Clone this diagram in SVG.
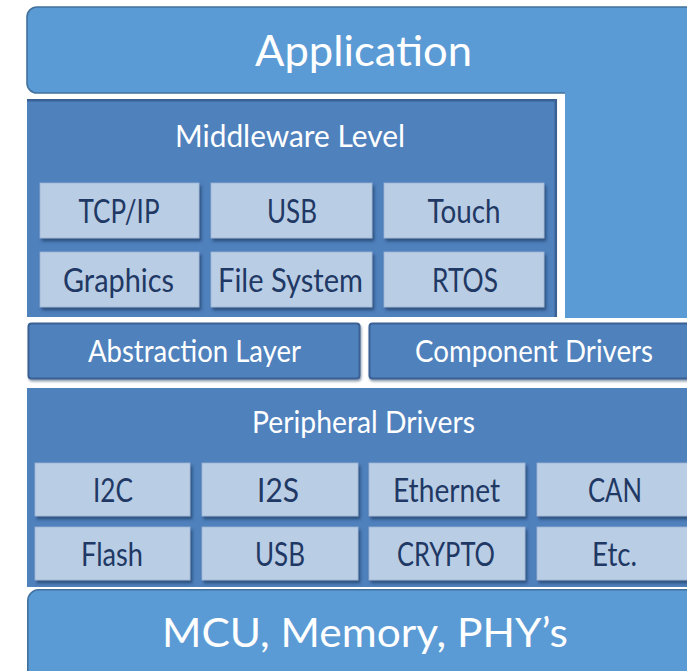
<svg xmlns="http://www.w3.org/2000/svg" width="687" height="671" viewBox="0 0 687 671">
  <defs>
    <filter id="tileShadow" x="-10%" y="-20%" width="125%" height="150%">
      <feDropShadow dx="2" dy="3" stdDeviation="1.6" flood-color="#22406b" flood-opacity="0.75"/>
    </filter>
    <filter id="barShadow" x="-5%" y="-20%" width="115%" height="150%">
      <feDropShadow dx="1" dy="2" stdDeviation="1.2" flood-color="#1f3a60" flood-opacity="0.5"/>
    </filter>
  </defs>
  <style>
    .outer { fill: #5B9BD5; }
    .outerEdge { fill: none; stroke: #41719C; stroke-width: 1.6; }
    .layer { fill: #4F81BD; }
    .layerEdge { stroke: #3A6194; stroke-width: 2.5; }
    .bar { fill: #4F81BD; stroke: #3A6194; stroke-width: 2; }
    .tile { fill: #B9CDE5; stroke: #9DB5D4; stroke-width: 0.8; }
    .title { font-family: Lato, "Open Sans", sans-serif; fill: #FFFFFF; text-anchor: middle; }
    .label { font-family: Lato, "Open Sans", sans-serif; fill: #1F3864; text-anchor: middle; font-size: 33px; }
  </style>

  <rect width="687" height="671" fill="#FFFFFF"/>

  <!-- Application: top bar with a column running down the right side -->
  <g id="application">
    <path class="outer" d="M37,7 H700 V318 H565 V93 H37 A10,10 0 0 1 27,83 V17 A10,10 0 0 1 37,7 Z"/>
    <path class="outerEdge" d="M700,7 H37 A10,10 0 0 0 27,17 V83 A10,10 0 0 0 37,93 H565"/>
    <text class="title" x="363.5" y="66" font-size="43" textLength="217" lengthAdjust="spacingAndGlyphs">Application</text>
  </g>

  <!-- Middleware level -->
  <g id="middleware">
    <rect class="layer" x="27" y="99" width="530" height="218"/>
    <path class="layerEdge" fill="none" d="M27,100.2 H555.8 V317"/>
    <text class="title" x="290" y="147" font-size="31" textLength="230" lengthAdjust="spacingAndGlyphs">Middleware Level</text>
  </g>
  <g id="mw-tcpip">
    <rect class="tile" x="40" y="183" width="159" height="55" filter="url(#tileShadow)"/>
    <text class="label" x="119" y="223" textLength="81" lengthAdjust="spacingAndGlyphs">TCP/IP</text>
  </g>
  <g id="mw-usb">
    <rect class="tile" x="211" y="183" width="161" height="55" filter="url(#tileShadow)"/>
    <text class="label" x="292" y="223" textLength="50" lengthAdjust="spacingAndGlyphs">USB</text>
  </g>
  <g id="mw-touch">
    <rect class="tile" x="384" y="183" width="160" height="55" filter="url(#tileShadow)"/>
    <text class="label" x="464" y="223" textLength="73" lengthAdjust="spacingAndGlyphs">Touch</text>
  </g>
  <g id="mw-graphics">
    <rect class="tile" x="40" y="252" width="159" height="55" filter="url(#tileShadow)"/>
    <text class="label" x="118.5" y="292" textLength="111" lengthAdjust="spacingAndGlyphs">Graphics</text>
  </g>
  <g id="mw-filesystem">
    <rect class="tile" x="211" y="252" width="161" height="55" filter="url(#tileShadow)"/>
    <text class="label" x="290.5" y="292" textLength="145" lengthAdjust="spacingAndGlyphs">File System</text>
  </g>
  <g id="mw-rtos">
    <rect class="tile" x="384" y="252" width="160" height="55" filter="url(#tileShadow)"/>
    <text class="label" x="465" y="292" textLength="66" lengthAdjust="spacingAndGlyphs">RTOS</text>
  </g>

  <!-- Abstraction and component driver bars -->
  <g id="abstraction">
    <rect class="bar" x="28.5" y="323.5" width="331" height="55" rx="3" filter="url(#barShadow)"/>
    <text class="title" x="194.5" y="362" font-size="31" textLength="213" lengthAdjust="spacingAndGlyphs">Abstraction Layer</text>
  </g>
  <g id="component-drivers">
    <rect class="bar" x="369.5" y="323.5" width="340" height="55" rx="3" filter="url(#barShadow)"/>
    <text class="title" x="534" y="362" font-size="31" textLength="238" lengthAdjust="spacingAndGlyphs">Component Drivers</text>
  </g>

  <!-- Peripheral drivers -->
  <g id="peripheral">
    <rect class="layer" x="27" y="388" width="680" height="199"/>
    <text class="title" x="363.5" y="433" font-size="30" textLength="223" lengthAdjust="spacingAndGlyphs">Peripheral Drivers</text>
  </g>
  <g id="pd-i2c">
    <rect class="tile" x="35" y="463" width="155" height="53" filter="url(#tileShadow)"/>
    <text class="label" x="113" y="502" textLength="40" lengthAdjust="spacingAndGlyphs">I2C</text>
  </g>
  <g id="pd-i2s">
    <rect class="tile" x="202" y="463" width="156" height="53" filter="url(#tileShadow)"/>
    <text class="label" x="278" y="502" textLength="42" lengthAdjust="spacingAndGlyphs">I2S</text>
  </g>
  <g id="pd-ethernet">
    <rect class="tile" x="369" y="463" width="156" height="53" filter="url(#tileShadow)"/>
    <text class="label" x="446.5" y="502" textLength="107" lengthAdjust="spacingAndGlyphs">Ethernet</text>
  </g>
  <g id="pd-can">
    <rect class="tile" x="537" y="463" width="160" height="53" filter="url(#tileShadow)"/>
    <text class="label" x="615" y="502" textLength="54" lengthAdjust="spacingAndGlyphs">CAN</text>
  </g>
  <g id="pd-flash">
    <rect class="tile" x="35" y="527" width="155" height="53" filter="url(#tileShadow)"/>
    <text class="label" x="112" y="566" textLength="62" lengthAdjust="spacingAndGlyphs">Flash</text>
  </g>
  <g id="pd-usb">
    <rect class="tile" x="202" y="527" width="156" height="53" filter="url(#tileShadow)"/>
    <text class="label" x="280" y="566" textLength="50" lengthAdjust="spacingAndGlyphs">USB</text>
  </g>
  <g id="pd-crypto">
    <rect class="tile" x="369" y="527" width="156" height="53" filter="url(#tileShadow)"/>
    <text class="label" x="446" y="566" textLength="98" lengthAdjust="spacingAndGlyphs">CRYPTO</text>
  </g>
  <g id="pd-etc">
    <rect class="tile" x="537" y="527" width="160" height="53" filter="url(#tileShadow)"/>
    <text class="label" x="614.5" y="566" textLength="45" lengthAdjust="spacingAndGlyphs">Etc.</text>
  </g>

  <!-- Hardware base -->
  <g id="hardware">
    <rect class="outer" x="27.8" y="589.8" width="690" height="100" rx="11"/>
    <rect class="outerEdge" x="27.8" y="589.8" width="690" height="100" rx="11"/>
    <text class="title" x="365" y="647" font-size="40" textLength="406" lengthAdjust="spacingAndGlyphs">MCU, Memory, PHY’s</text>
  </g>
</svg>
